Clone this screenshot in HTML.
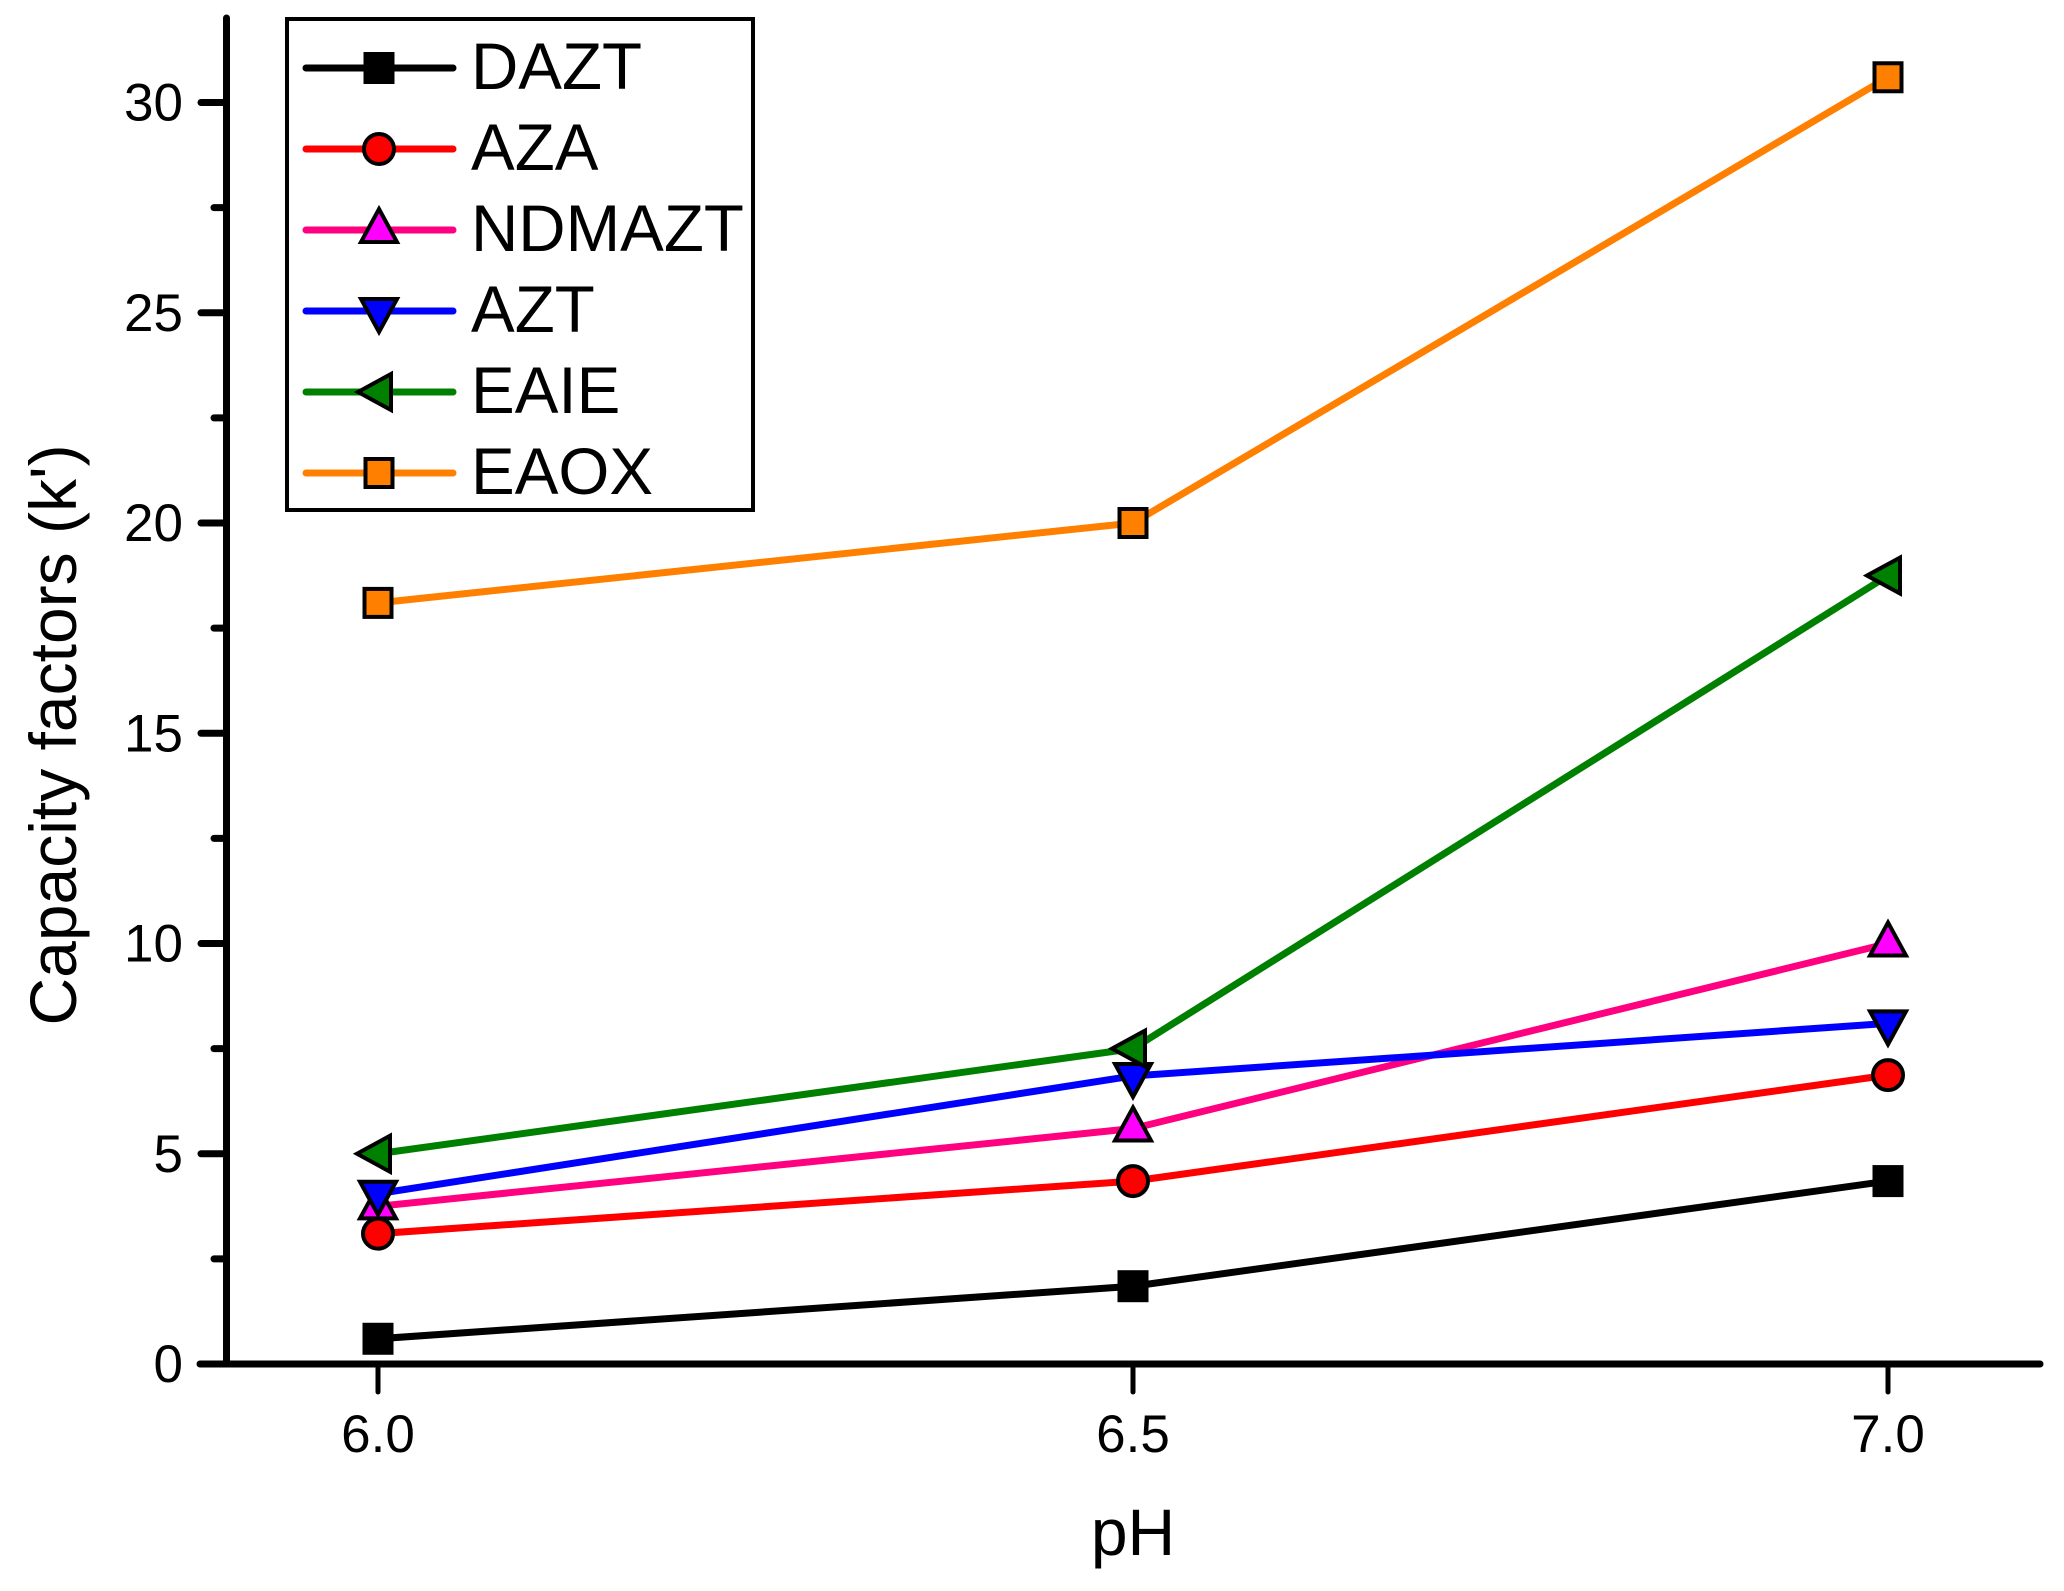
<!DOCTYPE html>
<html lang="en">
<head>
<meta charset="utf-8">
<title>Capacity factors vs pH</title>
<style>
html,body{margin:0;padding:0;background:#fff;}
svg{display:block;}
text{font-family:"Liberation Sans",Arial,sans-serif;fill:#000;}
</style>
</head>
<body>
<svg id="chart" xmlns="http://www.w3.org/2000/svg" width="2064" height="1591" viewBox="0 0 2064 1591">
<rect x="0" y="0" width="2064" height="1591" fill="#fff"/>
</svg>
<script>
const categories = [6.0, 6.5, 7.0];
const xTickLabels = ["6.0", "6.5", "7.0"];
const yTickValues = [0, 5, 10, 15, 20, 25, 30];
const yMinorTickValues = [2.5, 7.5, 12.5, 17.5, 22.5, 27.5];
const seriesNames = ["DAZT", "AZA", "NDMAZT", "AZT", "EAIE", "EAOX"];
const dazt = [0.6, 1.85, 4.35];
const aza = [3.1, 4.35, 6.87];
const ndmazt = [3.75, 5.6, 10.0];
const azt = [4.05, 6.85, 8.1];
const eaie = [5.0, 7.5, 18.75];
const eaox = [18.1, 20.0, 30.6];

const seriesValues = [dazt, aza, ndmazt, azt, eaie, eaox];
const lineColors = ["#000000", "#ff0000", "#ff0080", "#0000ff", "#008000", "#ff8000"];
const markerFills = ["#000000", "#ff0000", "#ff00ff", "#0000ff", "#008000", "#ff8000"];
const markerShapes = ["square", "circle", "up", "down", "left", "square"];

const svg = document.getElementById('chart');
const NS = 'http://www.w3.org/2000/svg';
function xScale(v){ return 378 + (v - 6.0) * 1510; }
function yScale(v){ return 1364 - v * 42.05; }
function make(tag, attrs, parent){
  const el = document.createElementNS(NS, tag);
  for (const k in attrs) el.setAttribute(k, attrs[k]);
  (parent || svg).appendChild(el);
  return el;
}
function drawMarker(shape, cx, cy, fill, parent){
  const common = {fill: fill, stroke: '#000', 'stroke-width': 4, 'stroke-linejoin': 'miter'};
  let el;
  if (shape === 'square') {
    el = make('rect', Object.assign({x: cx - 13.5, y: cy - 14, width: 27, height: 28}, common), parent);
  } else if (shape === 'circle') {
    el = make('circle', Object.assign({cx: cx, cy: cy, r: 15}, common), parent);
  } else {
    let pts;
    if (shape === 'up') pts = [[0,-21],[18,12],[-18,12]];
    if (shape === 'down') pts = [[0,21],[18,-12],[-18,-12]];
    if (shape === 'left') pts = [[-21,0],[12,-18],[12,18]];
    el = make('polygon', Object.assign({points: pts.map(p => (cx + p[0]) + ',' + (cy + p[1])).join(' ')}, common), parent);
  }
  return el;
}

/* Axes */
const yAxis = make('line', {x1: 226.5, y1: 18, x2: 226.5, y2: 1364, stroke: '#000', 'stroke-width': 7, 'stroke-linecap': 'round'});


const xAxis = make('line', {x1: 200, y1: 1364, x2: 2040, y2: 1364, stroke: '#000', 'stroke-width': 7, 'stroke-linecap': 'round'});



yTickValues.forEach(function(v){
  const tick = make('line', {x1: 201, y1: yScale(v), x2: 226, y2: yScale(v), stroke: '#000', 'stroke-width': 7, 'stroke-linecap': 'round'});
  
  
  const label = make('text', {x: 183, y: yScale(v) + 18, 'text-anchor': 'end', 'font-size': 53});
  label.textContent = String(v);
  
  
});
yMinorTickValues.forEach(function(v){
  const tick = make('line', {x1: 214, y1: yScale(v), x2: 226, y2: yScale(v), stroke: '#000', 'stroke-width': 7, 'stroke-linecap': 'round'});
  
  
});
categories.forEach(function(v, i){
  const tick = make('line', {x1: xScale(v), y1: 1364, x2: xScale(v), y2: 1392, stroke: '#000', 'stroke-width': 5, 'stroke-linecap': 'round'});
  
  
  const label = make('text', {x: xScale(v), y: 1452, 'text-anchor': 'middle', 'font-size': 53});
  label.textContent = xTickLabels[i];
  
  
});

/* Axis titles */
const xTitle = make('text', {x: 1133, y: 1555, 'text-anchor': 'middle', 'font-size': 66});
xTitle.textContent = 'pH';


const yTitle = make('text', {x: 0, y: 0, 'text-anchor': 'middle', 'font-size': 66, transform: 'translate(76 735) rotate(-90)'});
yTitle.textContent = "Capacity factors (k')";



/* Series */
seriesValues.forEach(function(vals, s){
  const g = make('g', {});
  
  
  const line = make('polyline', {
    points: vals.map(function(v, i){ return xScale(categories[i]) + ',' + yScale(v); }).join(' '),
    fill: 'none', stroke: lineColors[s], 'stroke-width': 7, 'stroke-linejoin': 'round'
  }, g);
  
  
  vals.forEach(function(v, i){
    const m = drawMarker(markerShapes[s], xScale(categories[i]), yScale(v), markerFills[s], g);
    
    
  });
});

/* Legend */
const legend = make('g', {});


const legendBox = make('rect', {x: 287, y: 19, width: 466, height: 491, fill: '#fff', stroke: '#000', 'stroke-width': 4}, legend);


seriesNames.forEach(function(name, s){
  const cy = 68 + s * 81;
  const entry = make('g', {}, legend);
  
  
  const sw = make('line', {x1: 306, y1: cy, x2: 453, y2: cy, stroke: lineColors[s], 'stroke-width': 7, 'stroke-linecap': 'round'}, entry);
  
  
  const mk = drawMarker(markerShapes[s], 379, cy, markerFills[s], entry);
  
  
  const t = make('text', {x: 471, y: cy + 21, 'font-size': 65.5}, entry);
  t.textContent = name;
  
  
});
</script>
</body>
</html>
